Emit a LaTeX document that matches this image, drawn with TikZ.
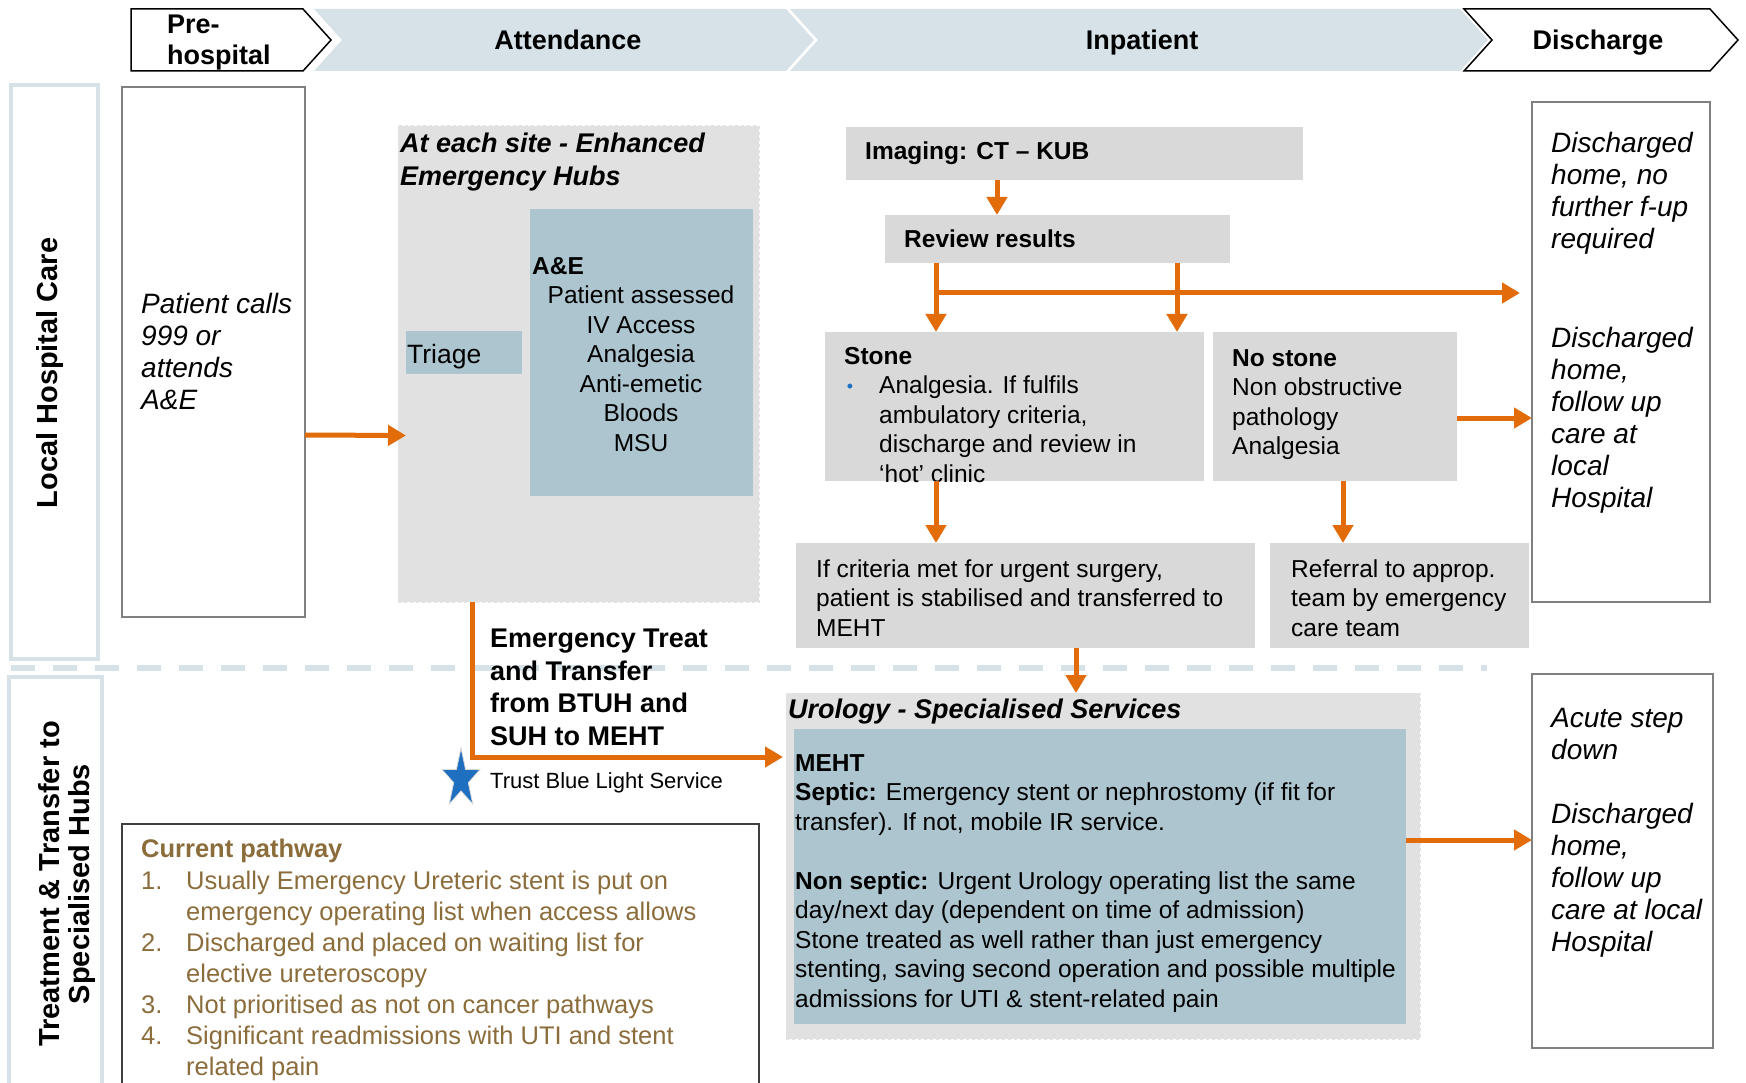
\documentclass[tikz,border=0pt]{standalone}
\usepackage{fontspec}
\setmainfont{Liberation Sans}
\usetikzlibrary{arrows.meta,shapes.geometric}

\definecolor{hdrblue}{RGB}{214,226,232}
\definecolor{steel}{RGB}{173,197,207}
\definecolor{boxgray}{RGB}{217,217,217}
\definecolor{hubgray}{RGB}{225,225,225}
\definecolor{flow}{RGB}{226,108,10}
\definecolor{note}{RGB}{139,109,59}
\definecolor{starblue}{RGB}{30,111,192}

\newcommand\setfs[2]{\fontsize{#1}{#2}\selectfont}

% multi-line text nodes are placed by the baseline of their last line
\tikzset{
  panel/.style={anchor=north west, inner sep=0pt, outer sep=0pt},
  graybox/.style={panel, fill=boxgray},
  steelbox/.style={panel, fill=steel},
  hubbox/.style={panel, fill=hubgray, draw=white!78!gray, dashed, line width=1pt},
  whitebox/.style={panel, fill=white, draw=gray, line width=1.5pt},
  notebox/.style={panel, fill=white, draw=black!75, line width=1.5pt},
  lanebox/.style={panel, draw=hdrblue, line width=4.5pt},
  chev/.style={line width=1.5pt, line join=miter},
  txt/.style={anchor=base west, inner sep=0pt, align=left, font=\setfs{24.5}{29.5}},
  ital/.style={anchor=base west, inner sep=0pt, align=left, font=\itshape\setfs{28}{32}},
  hdr/.style={anchor=base, inner sep=0pt, font=\bfseries\setfs{27}{31}},
  lanetxt/.style={rotate=90, align=center, inner sep=0pt, font=\bfseries\setfs{29}{30}},
  pathtxt/.style={anchor=base west, inner sep=0pt, align=left, text=note, font=\setfs{25.5}{31}},
  arr/.style={draw=flow, line width=5pt, -{Triangle[length=18pt,width=20pt]}}
}

\begin{document}
\begin{tikzpicture}[x=1pt,y=-1pt]
\useasboundingbox (0,0) rectangle (1746,1083);
\fill[white] (0,0) rectangle (1746,1083);

% phase chevrons along the top
\draw[chev, fill=white, draw=black] (131,9) -- (303,9) -- (331,40) -- (303,71) -- (131,71) -- cycle;
\fill[hdrblue] (314,9) -- (786,9) -- (814,40) -- (786,71) -- (314,71) -- (342,40) -- cycle;
\fill[hdrblue] (790,9) -- (1460,9) -- (1488,40) -- (1460,71) -- (790,71) -- (818,40) -- cycle;
\draw[chev, fill=white, draw=black] (1464,9) -- (1710,9) -- (1738,40) -- (1710,71) -- (1464,71) -- (1492,40) -- cycle;
\node[anchor=base west, align=left, inner sep=0pt, font=\bfseries\setfs{27}{31}] (pre) at (167,65) {Pre-\\hospital};
\node[hdr] (att) at (568,50) {Attendance};
\node[hdr] (inp) at (1142,50) {Inpatient};
\node[hdr] (dis) at (1598,50) {Discharge};

% swim lanes
\node[lanebox, minimum width=87pt, minimum height=574pt] (lanea) at (11,85) {};
\node[lanebox, minimum width=93pt, minimum height=420pt] (laneb) at (9,677) {};
\node[lanetxt] (laneatxt) at (50,373) {Local Hospital Care};
\node[lanetxt] (lanebtxt) at (67,884) {Treatment \& Transfer to\\Specialised Hubs};
\coordinate (sepl) at (11,668);
\coordinate (sepr) at (1487,668);
\draw[hdrblue, line width=6pt, dash pattern=on 24pt off 18pt] (sepl) -- (sepr);

% pre-hospital
\node[whitebox, minimum width=183pt, minimum height=530pt] (patient) at (122,87) {};
\node[ital] (patienttxt) at (141,409.5) {Patient calls\\999 or\\attends\\A\&E};

% emergency hub
\node[hubbox, minimum width=361pt, minimum height=476pt] (hub) at (398,126) {};
\node[anchor=base west, align=left, inner sep=0pt, font=\bfseries\itshape\setfs{27}{33}] (hubtxt) at (400,186) {At each site - Enhanced\\Emergency Hubs};
\node[steelbox, minimum width=116pt, minimum height=43pt] (triage) at (406,331) {};
\node[anchor=base west, inner sep=0pt, font=\setfs{26.5}{30}] (triagetxt) at (407,363) {Triage};
\node[steelbox, minimum width=223pt, minimum height=287pt] (ae) at (530,209) {};
\node[txt, font=\bfseries\setfs{24.5}{29.5}] (aehead) at (532,275) {A\&E};
\node[anchor=base, align=center, inner sep=0pt, font=\setfs{24.5}{29.6}] (aetxt) at (641,451.5) {Patient assessed\\IV Access\\Analgesia\\Anti-emetic\\Bloods\\MSU};

% inpatient flow
\node[graybox, minimum width=457pt, minimum height=53pt] (imaging) at (846,127) {};
\node[txt, font=\bfseries\setfs{24.5}{29.5}] (imagingtxt) at (865,160) {Imaging: CT – KUB};
\node[graybox, minimum width=345pt, minimum height=48pt] (review) at (885,215) {};
\node[txt, font=\bfseries\setfs{24.5}{29.5}] (reviewtxt) at (904,248) {Review results};
\node[graybox, minimum width=379pt, minimum height=149pt] (stone) at (825,332) {};
\node[graybox, minimum width=244pt, minimum height=149pt] (nostone) at (1213,332) {};
\node[graybox, minimum width=459pt, minimum height=105pt] (criteria) at (796,543) {};
\node[graybox, minimum width=259pt, minimum height=105pt] (referral) at (1270,543) {};
\node[txt, font=\bfseries\setfs{24.5}{29.5}] (stonehead) at (844,364) {Stone};
\node[anchor=base, inner sep=0pt, text=starblue, font=\setfs{18}{18}] (bullet) at (850,392) {•};
\node[txt] (stonetxt) at (879,482) {Analgesia. If fulfils\\ambulatory criteria,\\discharge and review in\\‘hot’ clinic};
\node[txt] (nostonetxt) at (1232,454.5) {\textbf{No stone}\\Non obstructive\\pathology\\Analgesia};
\node[txt] (criteriatxt) at (816,636) {If criteria met for urgent surgery,\\patient is stabilised and transferred to\\MEHT};
\node[txt] (referraltxt) at (1291,636) {Referral to approp.\\team by emergency\\care team};

% discharge outcomes
\node[whitebox, minimum width=178pt, minimum height=500pt] (disa) at (1532,102) {};
\node[ital] (disatxt) at (1551,249) {Discharged\\home, no\\further f-up\\required};
\node[ital] (disbtxt) at (1551,507) {Discharged\\home,\\follow up\\care at\\local\\Hospital};
\node[whitebox, minimum width=181pt, minimum height=374pt] (disb) at (1532,674) {};
\node[ital] (disctxt) at (1551,759.5) {Acute step\\down};
\node[ital] (disdtxt) at (1551,951.5) {Discharged\\home,\\follow up\\care at local\\Hospital};

% specialised services
\node[hubbox, minimum width=634pt, minimum height=346pt] (uro) at (786,693) {};
\node[anchor=base west, inner sep=0pt, font=\bfseries\itshape\setfs{27}{33}] (urotxt) at (788,718) {Urology - Specialised Services};
\node[steelbox, minimum width=612pt, minimum height=295pt] (meht) at (794,729) {};
\node[txt] (mehttxt) at (795,1007) {\textbf{MEHT}\\
\textbf{Septic:} Emergency stent or nephrostomy (if fit for\\
transfer). If not, mobile IR service.\\[29.5pt]
\textbf{Non septic:} Urgent Urology operating list the same\\
day/next day (dependent on time of admission)\\
Stone treated as well rather than just emergency\\
stenting, saving second operation and possible multiple\\
admissions for UTI \& stent-related pain};

% transfer between sites
\node[anchor=base west, align=left, inner sep=0pt, font=\bfseries\setfs{27}{32.7}] (transfertxt) at (490,745.6) {Emergency Treat\\and Transfer\\from BTUH and\\SUH to MEHT};
\begin{scope}[shift={(461,779)}, yscale=1.55]
  \node[star, star points=5, star point ratio=2.6, minimum size=40pt, inner sep=0pt,
        fill=starblue, draw=black!15, line width=0.8pt, transform shape] (bluestar) at (0,0) {};
\end{scope}
\node[anchor=base west, inner sep=0pt, font=\setfs{22}{26}] (bluetxt) at (490,788) {Trust Blue Light Service};

% current pathway notes
\node[notebox, minimum width=637pt, minimum height=280pt] (current) at (122,824) {};
\node[pathtxt, font=\bfseries\setfs{25.5}{31}] (curhead) at (141,857.5) {Current pathway};
\node[pathtxt] (n1) at (141,889) {1.};
\node[pathtxt] (t1) at (186,920) {Usually Emergency Ureteric stent is put on\\emergency operating list when access allows};
\node[pathtxt] (n2) at (141,951) {2.};
\node[pathtxt] (t2) at (186,982) {Discharged and placed on waiting list for\\elective ureteroscopy};
\node[pathtxt] (n3) at (141,1013) {3.};
\node[pathtxt] (t3) at (186,1013) {Not prioritised as not on cancer pathways};
\node[pathtxt] (n4) at (141,1044) {4.};
\node[pathtxt] (t4) at (186,1075) {Significant readmissions with UTI and stent\\related pain};

% connectors
\draw[arr] ([yshift=-83pt]patient.east) -- ([yshift=-83pt]triage.west);
\draw[arr] ([xshift=-77.5pt]imaging.south) -- ([xshift=-60.5pt]review.north);
\draw[arr] ([xshift=-121.5pt]review.south) -- ([xshift=-78.5pt]stone.north);
\draw[arr] ([xshift=119.5pt]review.south) -- ([xshift=162.5pt]stone.north);
\draw[arr] ([xshift=-121.5pt,yshift=-30pt]review.south) -- ([xshift=-12pt,yshift=59pt]disa.west);
\draw[arr] ([yshift=-11.5pt]nostone.east) -- ([yshift=-66pt]disa.west);
\draw[arr] ([xshift=-78.5pt]stone.south) -- ([xshift=-89.5pt]criteria.north);
\draw[arr] ([xshift=8pt]nostone.south) -- ([xshift=-56.5pt]referral.north);
\draw[arr] ([xshift=50.5pt]criteria.south) -- ([xshift=-27pt]uro.north);
\draw[arr] ([yshift=36.5pt]meht.east) -- ([yshift=21pt]disb.west);
\draw[arr] ([xshift=-106.5pt]hub.south) |- ([xshift=-3pt,yshift=109pt]uro.west);
\end{tikzpicture}
\end{document}
